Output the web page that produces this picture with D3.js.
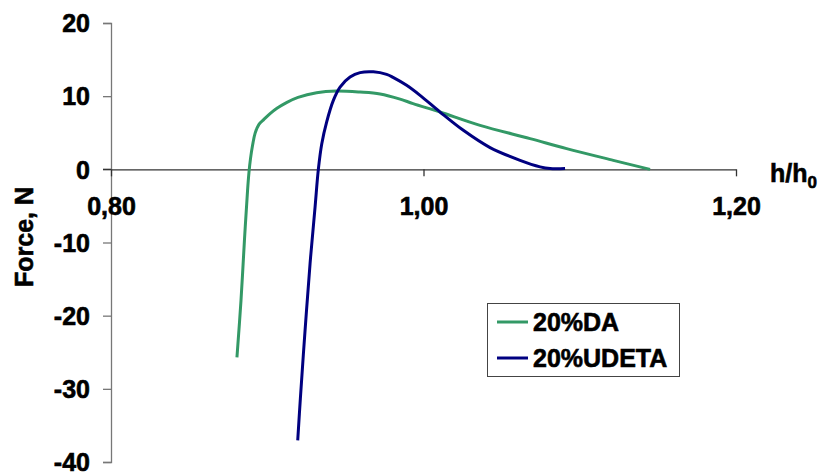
<!DOCTYPE html>
<html><head><meta charset="utf-8">
<script src="https://cdn.jsdelivr.net/npm/d3@7"></script>
<style>body{margin:0;background:#fff}svg{display:block}text{font-family:"Liberation Sans",Arial,sans-serif;font-weight:bold;fill:#000;stroke:#000;stroke-width:0.6px}</style>
</head><body>
<script>
const seriesNames = ["20%DA", "20%UDETA"];
const seriesColors = ["#339966", "#000080"];
const daX = [0.8806,0.8832,0.8854,0.8874,0.8883,0.8893,0.8906,0.8922,0.8947,0.8979,0.9018,0.9062,0.9126,0.9197,0.9316,0.9444,0.9594,0.9722,0.9850,0.9933,1.0106,1.0362,1.0682,1.0916,1.1215,1.1450];
const daY = [-25.7,-17.9,-9.7,-2.87,-0.41,1.5,3.28,4.92,6.15,6.83,7.61,8.34,9.16,9.84,10.48,10.7,10.56,10.3,9.6,8.98,7.83,6.01,4.2,2.83,1.23,0];
const udetaX = [0.9195,0.9212,0.9242,0.9274,0.9306,0.9327,0.9349,0.9380,0.9423,0.9466,0.9530,0.9594,0.9679,0.9764,0.9805,0.9892,0.9978,1.0106,1.0255,1.0426,1.0618,1.0746,1.0810,1.0906];
const udetaY = [-37.04,-31.3,-22.0,-12.89,-5.15,0,3.51,6.46,9.43,11.25,12.61,13.22,13.33,12.98,12.57,11.48,10.11,7.83,5.33,2.97,1.23,0.34,0.1,0.1];
const xTicks = [0.8, 1.0, 1.2];
const xTickLabels = ["0,80", "1,00", "1,20"];
const yTicks = [-40, -30, -20, -10, 0, 10, 20];

const W = 821, H = 473;
const FS = 25;
const svg = d3.select("body").append("svg").attr("width", W).attr("height", H);
const x = d3.scaleLinear().domain([0.8, 1.2]).range([111, 736]);
const y = d3.scaleLinear().domain([-40, 20]).range([462, 23]);

// Y axis
const yAxis = svg.append("g").attr("transform", "translate(111,0)")
  .call(d3.axisLeft(y).tickValues(yTicks).tickSize(8).tickPadding(13).tickFormat(d => String(d)));
yAxis.select(".domain").attr("stroke", "#777").attr("stroke-width", 1.3);
yAxis.selectAll(".tick line").attr("stroke", "#777").attr("stroke-width", 1.3);
yAxis.selectAll(".tick text").attr("font-size", FS).attr("font-family", "Liberation Sans, Arial, sans-serif").attr("font-weight", "bold").attr("fill", "#000").attr("dy", "0.35em");

// X axis at y=0
const xAxis = svg.append("g").attr("transform", `translate(0,${y(0)})`)
  .call(d3.axisBottom(x).tickValues(xTicks).tickSize(7).tickSizeOuter(0).tickFormat((d, i) => xTickLabels[i]));
xAxis.select(".domain").attr("stroke", "#333").attr("stroke-width", 1.3);
xAxis.selectAll(".tick line").attr("stroke", "#333").attr("stroke-width", 1.3);
xAxis.selectAll(".tick text").attr("font-size", FS).attr("font-family", "Liberation Sans, Arial, sans-serif").attr("font-weight", "bold").attr("fill", "#000").attr("y", 46).attr("dy", 0);
svg.append("line").attr("x1", 103).attr("x2", 111).attr("y1", y(0)).attr("y2", y(0)).attr("stroke", "#333").attr("stroke-width", 1.3);

// Axis titles
const ht = svg.append("text").attr("x", 770).attr("y", 182).attr("font-size", FS);
ht.append("tspan").text("h/h");
ht.append("tspan").attr("font-size", 17).attr("dy", 6).text("0");

svg.append("text").attr("transform", "translate(33,237) rotate(-90)").attr("text-anchor", "middle").attr("font-size", FS).text("Force, N");

// Lines
const data = [daX.map((v, i) => [v, daY[i]]), udetaX.map((v, i) => [v, udetaY[i]])];
const line = d3.line().x(d => x(d[0])).y(d => y(d[1])).curve(d3.curveCatmullRom.alpha(0.5));
data.forEach((d, i) => {
  svg.append("path").attr("d", line(d)).attr("fill", "none").attr("stroke", seriesColors[i]).attr("stroke-width", 3).attr("stroke-linejoin", "round");
});

// Legend
const lg = svg.append("g");
lg.append("rect").attr("x", 487.5).attr("y", 303.5).attr("width", 192).attr("height", 73).attr("fill", "#fff").attr("stroke", "#444").attr("stroke-width", 1);
seriesNames.forEach((n, i) => {
  const cy = 322 + i * 36;
  lg.append("line").attr("x1", 497).attr("x2", 528).attr("y1", cy).attr("y2", cy).attr("stroke", seriesColors[i]).attr("stroke-width", 3);
  lg.append("text").attr("x", 533).attr("y", cy + 9).attr("font-size", FS).text(n);
});
</script>
</body></html>
